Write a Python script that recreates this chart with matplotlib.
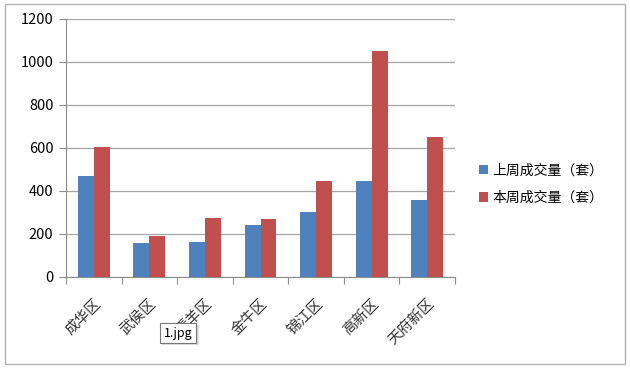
import matplotlib.pyplot as plt
import numpy as np
from matplotlib.patches import Rectangle

plt.rcParams['font.family'] = ['Noto Sans CJK SC', 'DejaVu Sans']

districts = ['成华区', '武侯区', '青羊区', '金牛区', '锦江区', '高新区', '天府新区']
last_week = [471, 160, 165, 240, 301, 445, 358]
this_week = [605, 190, 276, 268, 447, 1052, 650]
series_names = ['上周成交量（套）', '本周成交量（套）']
yticks = [0, 200, 400, 600, 800, 1000, 1200]

blue = '#4F81BD'
red = '#C0504D'

fig = plt.figure(figsize=(6.3, 3.68), dpi=100)
fig.patch.set_facecolor('white')
fig.patches.append(Rectangle((5 / 630, 4 / 368), 620 / 630, 360 / 368,
                             transform=fig.transFigure, fill=False,
                             edgecolor='#b0b0b0', linewidth=1.0))

ax = fig.add_axes([66 / 630, 1 - 277 / 368, 389 / 630, 258 / 368])
x = np.arange(len(districts))
w = 0.286
ax.bar(x - w / 2, last_week, w, color=blue, label=series_names[0], zorder=3)
ax.bar(x + w / 2, this_week, w, color=red, label=series_names[1], zorder=3)

ax.set_xlim(-0.5, len(districts) - 0.5)
ax.set_ylim(0, 1200)
ax.set_yticks(yticks)
ax.set_yticklabels([str(v) for v in yticks], fontsize=10.5)
ax.yaxis.grid(True, color='#a6a6a6', linewidth=0.9, zorder=0)

ax.set_xticks(np.arange(len(districts) + 1) - 0.5)
ax.set_xticklabels([])
ax.set_xticks(x, minor=True)
ax.set_xticklabels(districts, minor=True, rotation=45, ha='right',
                   rotation_mode='anchor', fontsize=10.5, color='#333333')
ax.tick_params(axis='x', which='minor', length=0, pad=14)
ax.tick_params(axis='x', which='major', length=5, color='#8c8c8c')
ax.tick_params(axis='y', length=5, color='#8c8c8c', pad=4)

for side in ['top', 'right']:
    ax.spines[side].set_visible(False)
ax.spines['left'].set_color('#8c8c8c')
ax.spines['bottom'].set_color('#8c8c8c')

fig.legend(loc='center left', bbox_to_anchor=(466 / 630, 1 - 184 / 368),
           frameon=False, fontsize=10, handlelength=0.7, handleheight=0.7,
           handletextpad=0.3, labelspacing=0.95)

# tooltip overlay seen in the screenshot, with a faint drop shadow
fig.patches.append(Rectangle((162 / 630, 1 - 345 / 368), 37 / 630, 20 / 368,
                             transform=fig.transFigure, facecolor='#dcdcdc',
                             edgecolor='none', zorder=9))
fig.text(178 / 630, 1 - 333 / 368, '1.jpg', ha='center', va='center', fontsize=9,
         bbox=dict(boxstyle='square,pad=0.3', facecolor='white',
                   edgecolor='#777777', linewidth=0.8), zorder=10)

fig.savefig('out.png', dpi=100)
